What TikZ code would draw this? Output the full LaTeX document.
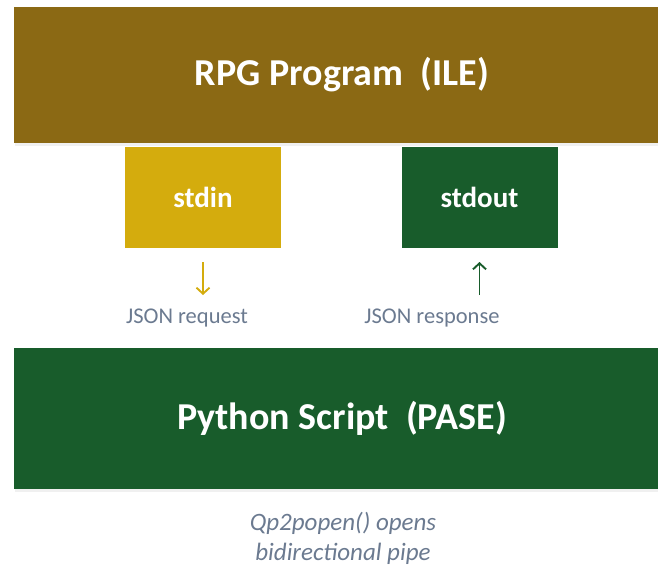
\documentclass[tikz,border=0pt]{standalone}
\usepackage{fontspec}
\setmainfont{Carlito}
\usetikzlibrary{arrows.meta,positioning,shadows}
\definecolor{rpgbrown}{HTML}{8B6914}
\definecolor{pipegold}{HTML}{D4AC0D}
\definecolor{pasegreen}{HTML}{185C2B}
\definecolor{notegray}{HTML}{6B7A90}

\begin{document}
\begin{tikzpicture}[x=1pt,y=-1pt,
	bigbox/.style={draw=none,minimum width=656pt,text=white,font=\fontsize{38}{44}\selectfont\bfseries,drop shadow={opacity=0.12,shadow xshift=1pt,shadow yshift=-3pt}},
	pipebox/.style={draw=none,minimum width=156pt,minimum height=101pt,text=white,font=\fontsize{29}{34}\selectfont\bfseries},
	note/.style={text=notegray,font=\fontsize{22.5}{27}\selectfont},
	flow/.style={line width=1.9pt,-{Straight Barb[length=6pt,width=13pt,line width=1.9pt]}}]
	\useasboundingbox (0,0) rectangle (658,566);
	
	\node[bigbox,fill=rpgbrown,minimum height=136pt] (rpg) at (342,75) {RPG Program\ \ (ILE)};
	\node[bigbox,fill=pasegreen,minimum height=141pt] (pase) at (342,418.5) {Python Script\ \ (PASE)};
	
	\node[pipebox,fill=pipegold] (stdin) at (203,197.5) {stdin};
	\node[pipebox,fill=pasegreen] (stdout) at (479.5,197.5) {stdout};
	
	\coordinate (reqtop) at (203,262);
	\coordinate (reqbot) at (203,295);
	\coordinate (restop) at (479.5,262);
	\coordinate (resbot) at (479.5,295);
	\draw[flow,pipegold] (reqtop) -- (reqbot);
	\draw[flow,pasegreen] (resbot) -- (restop);
	
	\node[note] (req) at (187,318) {JSON request};
	\node[note] (res) at (432,318) {JSON response};
	
	\node[note,font=\fontsize{25}{30}\selectfont\itshape,align=center] (popen) at (343,538) {Qp2popen() opens\\bidirectional pipe};
\end{tikzpicture}
\end{document}
